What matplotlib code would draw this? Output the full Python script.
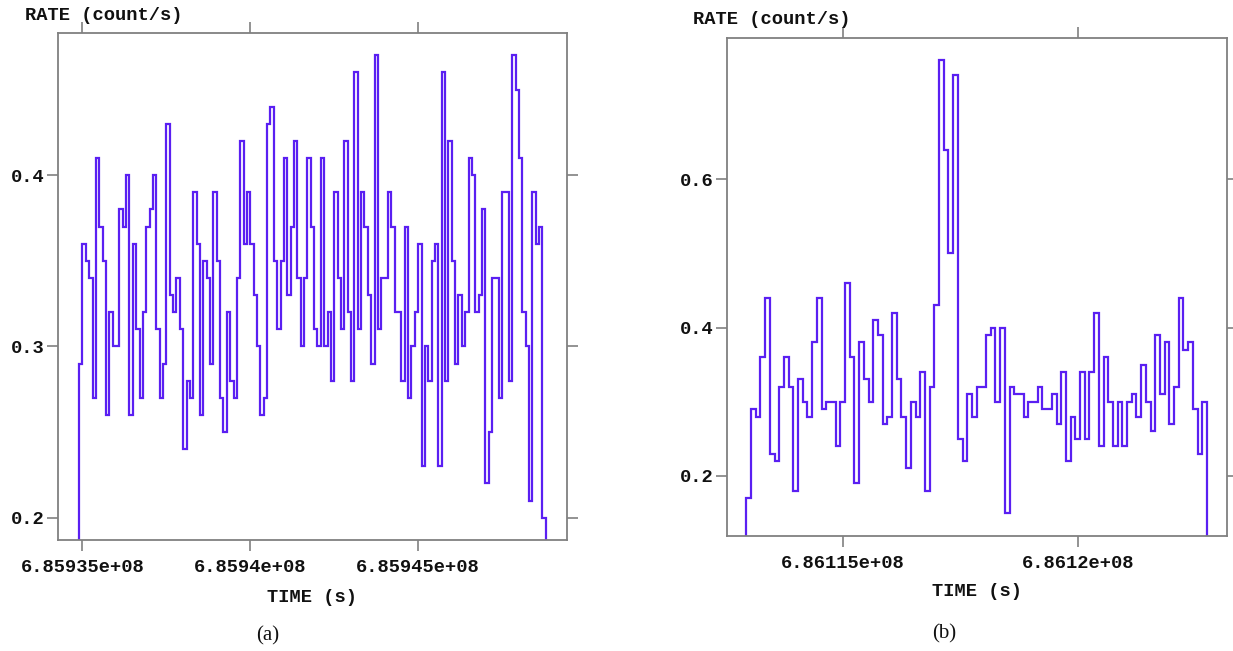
import numpy as np
import matplotlib
matplotlib.use("Agg")
import matplotlib.pyplot as plt

# ---------------- data ----------------
rate_a = [0.29, 0.36, 0.35, 0.34, 0.27, 0.41, 0.37, 0.35, 0.26, 0.32,
          0.30, 0.30, 0.38, 0.37, 0.40, 0.26, 0.36, 0.31, 0.27, 0.32,
          0.37, 0.38, 0.40, 0.31, 0.27, 0.29, 0.43, 0.33, 0.32, 0.34,
          0.31, 0.24, 0.28, 0.27, 0.39, 0.36, 0.26, 0.35, 0.34, 0.29,
          0.39, 0.35, 0.27, 0.25, 0.32, 0.28, 0.27, 0.34, 0.42, 0.36,
          0.39, 0.36, 0.33, 0.30, 0.26, 0.27, 0.43, 0.44, 0.35, 0.31,
          0.35, 0.41, 0.33, 0.37, 0.42, 0.34, 0.30, 0.34, 0.41, 0.37,
          0.31, 0.30, 0.41, 0.30, 0.32, 0.28, 0.39, 0.34, 0.31, 0.42,
          0.32, 0.28, 0.46, 0.31, 0.39, 0.37, 0.33, 0.29, 0.47, 0.31,
          0.34, 0.34, 0.39, 0.37, 0.32, 0.32, 0.28, 0.37, 0.27, 0.30,
          0.32, 0.36, 0.23, 0.30, 0.28, 0.35, 0.36, 0.23, 0.46, 0.28,
          0.42, 0.35, 0.29, 0.33, 0.30, 0.32, 0.41, 0.40, 0.32, 0.33,
          0.38, 0.22, 0.25, 0.34, 0.34, 0.27, 0.39, 0.39, 0.28, 0.47,
          0.45, 0.41, 0.32, 0.30, 0.21, 0.39, 0.36, 0.37, 0.20]
start_a = 685934900.0
xlim_a = (685934271.0, 685949434.0)
ylim_a = (0.187, 0.483)
xticks_a = [685935000, 685940000, 685945000]
xticklabels_a = ["6.85935e+08", "6.8594e+08", "6.85945e+08"]
yticks_a = [0.2, 0.3, 0.4]
yticklabels_a = ["0.2", "0.3", "0.4"]

rate_b = [0.17, 0.29, 0.28, 0.36, 0.44, 0.23, 0.22, 0.32, 0.36, 0.32,
          0.18, 0.33, 0.30, 0.28, 0.38, 0.44, 0.29, 0.30, 0.30, 0.24,
          0.30, 0.46, 0.36, 0.19, 0.38, 0.33, 0.30, 0.41, 0.39, 0.27,
          0.28, 0.42, 0.33, 0.28, 0.21, 0.30, 0.28, 0.34, 0.18, 0.32,
          0.43, 0.76, 0.64, 0.50, 0.74, 0.25, 0.22, 0.31, 0.28, 0.32,
          0.32, 0.39, 0.40, 0.30, 0.40, 0.15, 0.32, 0.31, 0.31, 0.28,
          0.30, 0.30, 0.32, 0.29, 0.29, 0.31, 0.27, 0.34, 0.22, 0.28,
          0.25, 0.34, 0.25, 0.34, 0.42, 0.24, 0.36, 0.30, 0.24, 0.30,
          0.24, 0.30, 0.31, 0.28, 0.35, 0.30, 0.26, 0.39, 0.31, 0.38,
          0.27, 0.32, 0.44, 0.37, 0.38, 0.29, 0.23, 0.30]
start_b = 686112950.0
xlim_b = (686112538.0, 686123177.0)
ylim_b = (0.119, 0.791)
xticks_b = [686115000, 686120000]
xticklabels_b = ["6.86115e+08", "6.8612e+08"]
yticks_b = [0.2, 0.4, 0.6]
yticklabels_b = ["0.2", "0.4", "0.6"]

bin_width = 100.0
ylabel_text = "RATE (count/s)"
xlabel_text = "TIME (s)"
panel_labels = ["(a)", "(b)"]

# ---------------- style ----------------
W, H = 1233, 651
fig = plt.figure(figsize=(W / 100, H / 100), dpi=100)
line_color = "#5a1ff2"
frame_color = "#808080"
mono = "Liberation Mono"
fs = 13.5


def px_axes(l, t, r, b):
    return fig.add_axes([l / W, 1 - b / H, (r - l) / W, (b - t) / H])


def style(ax, rates, start, xlim, ylim, xt, xtl, yt, ytl):
    edges = start + bin_width * np.arange(len(rates) + 1)
    ax.stairs(rates, edges, baseline=0.0, color=line_color, lw=1.6)
    ax.set_xlim(*xlim)
    ax.set_ylim(*ylim)
    ax.set_xticks(xt, xtl)
    ax.set_yticks(yt, ytl)
    for s in ax.spines.values():
        s.set_color(frame_color)
        s.set_linewidth(1.3)
    ax.tick_params(axis="both", which="both", direction="out", length=8,
                   width=1.2, color=frame_color, top=True, right=True,
                   labelsize=fs, labelcolor="#111111")
    ax.tick_params(axis="x", pad=6)
    ax.tick_params(axis="y", pad=1.5)
    for lab in ax.get_xticklabels() + ax.get_yticklabels():
        lab.set_fontfamily(mono)
        lab.set_fontweight("bold")


ax1 = px_axes(58, 33, 567, 540)
style(ax1, rate_a, start_a, xlim_a, ylim_a, xticks_a, xticklabels_a, yticks_a, yticklabels_a)
ax2 = px_axes(727, 37.5, 1227, 536)
style(ax2, rate_b, start_b, xlim_b, ylim_b, xticks_b, xticklabels_b, yticks_b, yticklabels_b)

# texts
fig.text(25 / W, 1 - 16 / H, ylabel_text, family=mono, weight="bold", size=fs,
         ha="left", va="center", color="#111111")
fig.text(693 / W, 1 - 20 / H, ylabel_text, family=mono, weight="bold", size=fs,
         ha="left", va="center", color="#111111")
fig.text(312 / W, 1 - 597 / H, xlabel_text, family=mono, weight="bold", size=fs,
         ha="center", va="center", color="#111111")
fig.text(977 / W, 1 - 591 / H, xlabel_text, family=mono, weight="bold", size=fs,
         ha="center", va="center", color="#111111")
fig.text(268 / W, 1 - 636 / H, panel_labels[0], family="Liberation Serif", size=15,
         ha="center", va="center", color="#111111")
fig.text(944 / W, 1 - 634 / H, panel_labels[1], family="Liberation Serif", size=15,
         ha="center", va="center", color="#111111")

fig.savefig("out.png", dpi=100)
